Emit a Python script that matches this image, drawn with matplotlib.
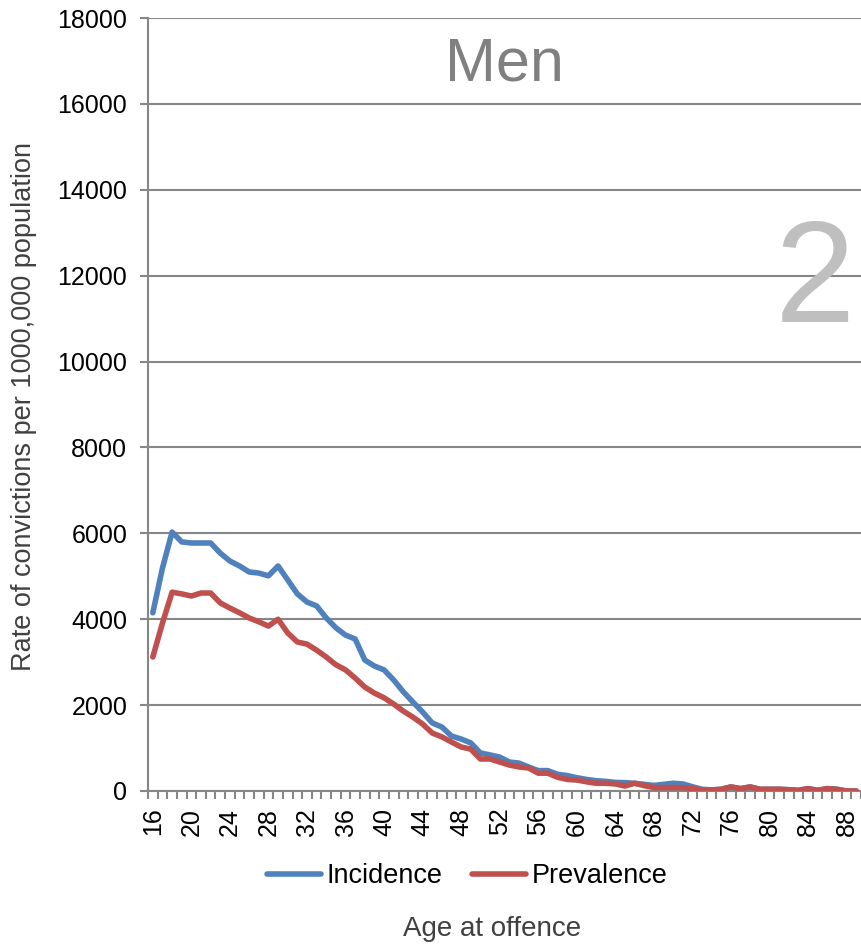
import numpy as np
import matplotlib
matplotlib.use("Agg")
import matplotlib.pyplot as plt
from matplotlib.ticker import FixedLocator

plt.rcParams["font.family"] = ["Liberation Sans", "DejaVu Sans"]

# ages 16..89
ages = list(range(16, 90))

incidence = [
    4150, 5190, 6030, 5800, 5775, 5775, 5775, 5540, 5355, 5240,   # 16-25
    5100, 5075, 5010, 5240, 4915, 4590, 4400, 4310, 4030, 3800,   # 26-35
    3630, 3540, 3050, 2910, 2820, 2585, 2310, 2070, 1840, 1585,   # 36-45
    1490, 1280, 1210, 1120, 885, 840, 790, 675, 650, 560,         # 46-55
    475, 475, 390, 360, 310, 270, 240, 225, 200, 195,             # 56-65
    180, 155, 130, 155, 180, 165, 100, 40, 25, 40,                # 66-75
    95, 55, 95, 40, 40, 40, 30, 15, 55, 15,                       # 76-85
    55, 40, 0, 0,                                                 # 86-89
]

prevalence = [
    3120, 3910, 4630, 4590, 4540, 4610, 4610, 4380, 4260, 4150,   # 16-25
    4030, 3940, 3840, 4000, 3680, 3470, 3420, 3280, 3120, 2940,   # 26-35
    2820, 2630, 2420, 2280, 2170, 2025, 1860, 1720, 1560, 1350,   # 36-45
    1260, 1140, 1025, 975, 745, 745, 675, 605, 560, 535,          # 46-55
    415, 415, 320, 270, 255, 215, 180, 180, 165, 115,             # 56-65
    180, 125, 80, 80, 80, 80, 60, 25, 25, 40,                     # 66-75
    95, 55, 95, 40, 40, 40, 30, 15, 55, 15,                       # 76-85
    55, 40, 0, 0,                                                 # 86-89
]

GRID = "#868686"
BLUE = "#4F81BD"
RED = "#C0504D"
TEXT = "#404040"

fig = plt.figure(figsize=(8.61, 9.44), dpi=100)
ax = fig.add_axes([148 / 861, 1 - 791 / 944, 1 - 148 / 861, (791 - 18) / 944])

x = np.arange(len(ages))
l1, = ax.plot(x, incidence, color=BLUE, linewidth=4, solid_joinstyle="round",
              solid_capstyle="round", label="Incidence", zorder=3)
l2, = ax.plot(x, prevalence, color=RED, linewidth=4, solid_joinstyle="round",
              solid_capstyle="round", label="Prevalence", zorder=4)

ax.set_xlim(-0.5, len(ages) - 0.5)
ax.set_ylim(0, 18000)
ax.set_yticks(range(0, 18001, 2000))
ax.tick_params(axis="y", labelsize=18, length=6, color=GRID, width=1.5, pad=9)
ax.yaxis.grid(True, color=GRID, linewidth=1.5)
ax.set_axisbelow(True)

major_pos = [i for i, a in enumerate(ages) if (a - 16) % 4 == 0]
ax.set_xticks(major_pos)
ax.set_xticklabels([str(ages[i]) for i in major_pos], rotation=90, fontsize=18)
ax.xaxis.set_minor_locator(FixedLocator(np.arange(-0.5, len(ages), 1.0)))
ax.tick_params(axis="x", which="major", length=0, pad=12)
ax.tick_params(axis="x", which="minor", length=6, color=GRID, width=1.5)

for side in ["top", "right"]:
    ax.spines[side].set_visible(False)
for side in ["left", "bottom"]:
    ax.spines[side].set_color(GRID)
    ax.spines[side].set_linewidth(1.5)

ax.text(504 / 861, 1 - 65 / 944, "Men", transform=fig.transFigure, fontsize=44,
        color="#808080", ha="center", va="center")
ax.text(815 / 861, 1 - 285 / 944, "2", transform=fig.transFigure, fontsize=104,
        color="#BFBFBF", ha="center", va="center")

fig.text(24 / 861, 1 - 406 / 944, "Rate of convictions per 1000,000 population",
         rotation=90, fontsize=19.5, color=TEXT, ha="center", va="center")
fig.text(492 / 861, 1 - 929 / 944, "Age at offence", fontsize=20, color=TEXT,
         ha="center", va="center")

fig.legend(handles=[l1, l2], loc="center", bbox_to_anchor=(467 / 861, 1 - 876 / 944),
           ncol=2, frameon=False, fontsize=19.5, handlelength=2.0,
           handletextpad=0.2, columnspacing=1.1)

fig.savefig("out.png", dpi=100)
